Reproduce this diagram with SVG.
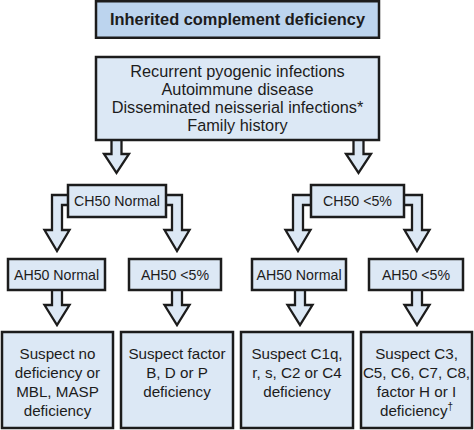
<svg xmlns="http://www.w3.org/2000/svg" width="474" height="430" viewBox="0 0 474 430">
<style>
.box{fill:#dce8f5;stroke:#1c1c1c;stroke-width:2.5}
.title{fill:#bcd4ee;stroke:#1c1c1c;stroke-width:2.5}
.arr{fill:#dce8f5;stroke:#1c1c1c;stroke-width:2.3;stroke-linejoin:miter}
text{font-family:"Liberation Sans",Arial,sans-serif;fill:#1c1c1c;text-anchor:middle}
.t{font-size:16.4px;font-weight:bold}
.m{font-size:16.3px}
.s{font-size:14.2px}
.b{font-size:15.2px}
</style>
<rect width="474" height="430" fill="#ffffff"/>
<g id="connectors">
<polygon class="arr" points="111.5,138 121.5,138 121.5,154 129,154 116.5,173 104,154 111.5,154"/>
<polygon class="arr" points="353.5,138 363.5,138 363.5,154 371,154 358.5,173 346,154 353.5,154"/>
<polygon class="arr" points="70,195 52,195 52,230 44.5,230 57,251 69.5,230 62,230 62,205 70,205"/>
<polygon class="arr" points="164,195 182,195 182,230 189.5,230 177,251 164.5,230 172,230 172,205 164,205"/>
<polygon class="arr" points="313,195 293,195 293,230 285.5,230 298,251 310.5,230 303,230 303,205 313,205"/>
<polygon class="arr" points="402,195 422,195 422,230 429.5,230 417,251 404.5,230 412,230 412,205 402,205"/>
<polygon class="arr" points="52,288 62,288 62,305 69.5,305 57,325 44.5,305 52,305"/>
<polygon class="arr" points="172,288 182,288 182,305 189.5,305 177,325 164.5,305 172,305"/>
<polygon class="arr" points="295,288 305,288 305,305 312.5,305 300,325 287.5,305 295,305"/>
<polygon class="arr" points="412,288 422,288 422,305 429.5,305 417,325 404.5,305 412,305"/>
</g>
<g id="title">
<rect class="title" x="96" y="1.25" width="283" height="36.5"/>
<text class="t" x="237.5" y="25">Inherited complement deficiency</text>
</g>
<g id="symptoms">
<rect class="box" x="96" y="57" width="283" height="83"/>
<text class="m" x="237.5" y="77">Recurrent pyogenic infections</text>
<text class="m" x="237.5" y="95">Autoimmune disease</text>
<text class="m" x="237.5" y="113">Disseminated neisserial infections*</text>
<text class="m" x="237.5" y="131">Family history</text>
</g>
<g id="ch50normal">
<rect class="box" x="68" y="185" width="98" height="32"/>
<text class="s" x="117" y="206">CH50 Normal</text>
</g>
<g id="ch50low">
<rect class="box" x="311" y="185" width="93" height="32"/>
<text class="s" x="357.5" y="206">CH50 &lt;5%</text>
</g>
<g id="ah50normal1">
<rect class="box" x="8" y="259" width="97" height="31"/>
<text class="s" x="56.5" y="280">AH50 Normal</text>
</g>
<g id="ah50low1">
<rect class="box" x="129" y="259" width="92" height="31"/>
<text class="s" x="175" y="280">AH50 &lt;5%</text>
</g>
<g id="ah50normal2">
<rect class="box" x="252" y="259" width="94" height="31"/>
<text class="s" x="299" y="280">AH50 Normal</text>
</g>
<g id="ah50low2">
<rect class="box" x="369" y="259" width="94" height="31"/>
<text class="s" x="416" y="280">AH50 &lt;5%</text>
</g>
<g id="result1">
<rect class="box" x="2" y="332" width="111" height="96"/>
<text class="b" x="57.5" y="359">Suspect no</text>
<text class="b" x="57.5" y="378">deficiency or</text>
<text class="b" x="57.5" y="397">MBL, MASP</text>
<text class="b" x="57.5" y="416">deficiency</text>
</g>
<g id="result2">
<rect class="box" x="121" y="332" width="112" height="96"/>
<text class="b" x="177" y="359">Suspect factor</text>
<text class="b" x="177" y="378">B, D or P</text>
<text class="b" x="177" y="397">deficiency</text>
</g>
<g id="result3">
<rect class="box" x="241" y="332" width="112" height="96"/>
<text class="b" x="297" y="359">Suspect C1q,</text>
<text class="b" x="297" y="378">r, s, C2 or C4</text>
<text class="b" x="297" y="397">deficiency</text>
</g>
<g id="result4">
<rect class="box" x="361" y="332" width="111" height="96"/>
<text class="b" x="416.5" y="359">Suspect C3,</text>
<text class="b" x="416.5" y="378">C5, C6, C7, C8,</text>
<text class="b" x="416.5" y="397">factor H or I</text>
<text class="b" x="416.5" y="416">deficiency<tspan font-size="10px" dy="-6">†</tspan></text>
</g>
</svg>
